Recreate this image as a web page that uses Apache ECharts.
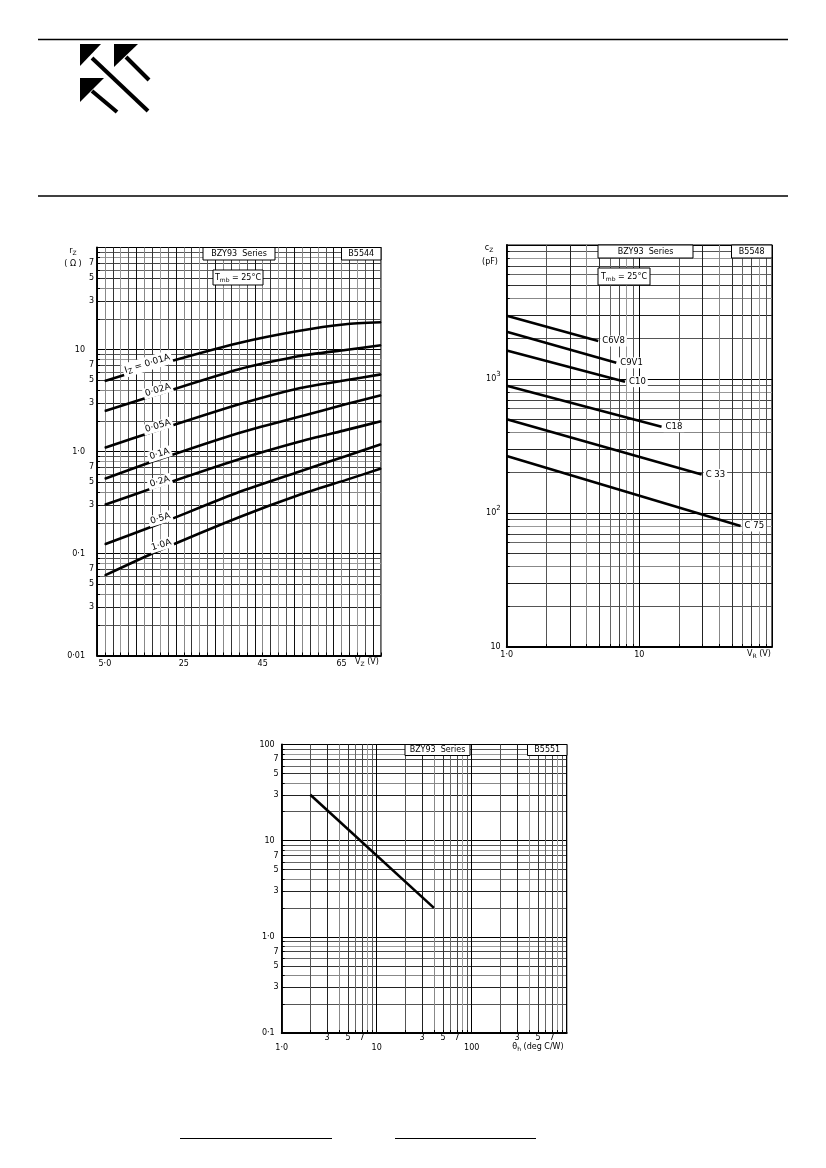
<!DOCTYPE html>
<html>
<head>
<meta charset="utf-8">
<title>BZY93 Series</title>
<script src="https://cdn.jsdelivr.net/npm/echarts@6/dist/echarts.min.js"></script>
<style>
  html, body { margin: 0; padding: 0; background: #fff; }
  #main { width: 826px; height: 1168px; }
</style>
</head>
<body>
<div id="main"></div>
<script>
var FONT = 'DejaVu Sans';

// ---- B5544: r_Z against V_Z ----
var vzVolts = [5, 18, 39, 54, 66, 75];
var rzI001 = [4.9, 7.0, 11.6, 15.2, 17.7, 18.5];
var rzI002 = [2.5, 3.6, 6.4, 8.6, 9.9, 11.0];
var rzI005 = [1.09, 1.6, 2.9, 4.15, 5.0, 5.7];
var rzI01 = [0.54, 0.82, 1.52, 2.18, 2.9, 3.56];
var rzI02 = [0.30, 0.45, 0.84, 1.24, 1.62, 1.98];
var rzI05 = [0.123, 0.19, 0.40, 0.63, 0.90, 1.18];
var rzI10 = [0.061, 0.104, 0.227, 0.373, 0.524, 0.68];
var rzCurveNames = ['{t|I}{sub|Z}{t| = 0·01A}', '0·02A', '0·05A', '0·1A', '0·2A', '0·5A', '1·0A'];
var vzTickLabels = [5, 25, 45, 65];
var rzTickLabels = [0.01, 0.03, 0.05, 0.07, 0.1, 0.3, 0.5, 0.7, 1, 3, 5, 7, 10, 30, 50, 70];

// ---- B5548: c_Z against V_R ----
var czNames = ['C6V8', 'C9V1', 'C10', 'C18', 'C 33', 'C 75'];
var vrStart = [1, 1, 1, 1, 1, 1];
var czStart = [2970, 2250, 1630, 890, 500, 266];
var vrEnd = [4.9, 6.7, 7.8, 14.7, 29.5, 58];
var czEnd = [1920, 1320, 955, 441, 194, 80];
var vrTickLabels = [1, 10];
var czTickLabels = [10, 100, 1000];

// ---- B5551: against theta_h ----
var thetaH = [2, 40];
var thermalY = [30, 2];
var thetaTickLabels = [1, 3, 5, 7, 10, 30, 50, 70, 100, 300, 500, 700];
var thermalTickLabels = [0.1, 0.3, 0.5, 0.7, 1, 3, 5, 7, 10, 30, 50, 70, 100];

// grid line positions: 1..9 in every decade
function logSteps(fromExp, toExp) {
  var out = [];
  for (var e = fromExp; e < toExp; e++) {
    for (var m = 1; m < 10; m++) out.push(+(m * Math.pow(10, e)).toPrecision(3));
  }
  out.push(Math.pow(10, toExp));
  return out;
}
var vzGridLines = [];
for (var g = 3; g <= 75; g += 2) vzGridLines.push(g);

var gridColorsLog = ['#000', '#555', '#222', '#888', '#333', '#666', '#444', '#999', '#555'];
var gridColorsLin = ['#111', '#888', '#333', '#999', '#555'];

function mantExp(v) {
  var e = Math.floor(Math.log10(v) + 1e-9);
  return { m: Math.round(v / Math.pow(10, e)), e: e };
}
function logLabel(majors) {
  return function (v) {
    var me = mantExp(v);
    if (me.m === 1) return '{maj|' + majors[me.e] + '}';
    return String(me.m);
  };
}

var labelFont = { fontFamily: FONT, fontSize: 8, color: '#000' };

function logAxis(grid, min, max, steps, labels, fmt, rich, margin) {
  return {
    gridIndex: grid, type: 'log', logBase: 10, min: min, max: max,
    axisLine: { show: true, lineStyle: { color: '#000', width: 1.8 } },
    axisTick: { show: true, inside: true, length: 3, customValues: steps, lineStyle: { color: '#000' } },
    splitLine: { show: true, lineStyle: { color: gridColorsLog, width: 1 } },
    minorTick: { show: false }, minorSplitLine: { show: false },
    axisLabel: Object.assign({ customValues: labels, formatter: fmt, margin: margin, rich: rich }, labelFont)
  };
}

var rzSeriesData = [rzI001, rzI002, rzI005, rzI01, rzI02, rzI05, rzI10];
var rzLabelOffsets = [[-8, -4], [3, -4], [3, -4], [5, -5], [5, -4], [6, -5], [7, -5]];

var series = [];
rzSeriesData.forEach(function (vals, k) {
  series.push({
    type: 'line', xAxisIndex: 0, yAxisIndex: 0,
    smooth: 0.2, symbol: 'circle', symbolSize: 1, showSymbol: true,
    lineStyle: { color: '#000', width: 2.6 }, itemStyle: { color: '#000' },
    silent: true, z: 5,
    data: vzVolts.map(function (v, i) {
      var item = { value: [v, vals[i]] };
      if (i === 1) {
        item.label = {
          show: true, position: 'inside', rotate: 17, offset: rzLabelOffsets[k],
          formatter: rzCurveNames[k], backgroundColor: '#fff', padding: [1, 2],
          fontFamily: FONT, fontSize: 9, color: '#000',
          rich: { t: { fontFamily: FONT, fontSize: 9 }, sub: { fontFamily: FONT, fontSize: 7, padding: [5, 0, 0, 0] } }
        };
      }
      return item;
    })
  });
});

czNames.forEach(function (name, k) {
  series.push({
    type: 'line', name: name, xAxisIndex: 1, yAxisIndex: 1,
    symbol: 'none', lineStyle: { color: '#000', width: 2.6 }, silent: true, z: 5,
    data: [[vrStart[k], czStart[k]], [vrEnd[k], czEnd[k]]],
    endLabel: {
      show: true, formatter: name, distance: 2, backgroundColor: '#fff', padding: [1, 2],
      fontFamily: FONT, fontSize: 8.5, color: '#000'
    }
  });
});

series.push({
  type: 'line', xAxisIndex: 2, yAxisIndex: 2,
  symbol: 'none', lineStyle: { color: '#000', width: 2.6 }, silent: true, z: 5,
  data: thetaH.map(function (t, i) { return [t, thermalY[i]]; })
});

var TOP_Z = 100;
function box(x, y, w, h, text, rich) {
  return [
    { type: 'rect', z: TOP_Z, shape: { x: x, y: y, width: w, height: h }, style: { fill: '#fff', stroke: '#000', lineWidth: 1 } },
    { type: 'text', z: TOP_Z + 1, style: { text: text, x: x + w / 2, y: y + h / 2, align: 'center', verticalAlign: 'middle',
      fontFamily: FONT, fontSize: 8, fill: '#000', rich: rich } }
  ];
}
var tmbRich = { t: { fontFamily: FONT, fontSize: 8 }, sub: { fontFamily: FONT, fontSize: 6, padding: [5, 0, 0, 0] } };
function txt(x, y, text, align, rich) {
  return { type: 'text', z: TOP_Z, style: { text: text, x: x, y: y, align: align || 'left', verticalAlign: 'middle',
    fontFamily: FONT, fontSize: 8, fill: '#000', rich: rich } };
}
function seg(x1, y1, x2, y2, w) {
  return { type: 'line', z: TOP_Z, shape: { x1: x1, y1: y1, x2: x2, y2: y2 }, style: { stroke: '#000', lineWidth: w } };
}
function tri(pts) {
  return { type: 'polygon', z: TOP_Z, shape: { points: pts }, style: { fill: '#000' } };
}

var graphics = [].concat(
  [
    seg(38, 39.5, 788, 39.5, 1.3),
    seg(38, 196, 788, 196, 1.3),
    tri([[80, 44], [101, 44], [80, 66]]), seg(92, 58, 148, 111, 4),
    tri([[114, 44], [138, 44], [114, 67]]), seg(126, 57, 149, 80, 4),
    tri([[80, 78], [104, 78], [80, 102]]), seg(92, 91, 117, 112, 4),
    seg(180, 1138.5, 332, 1138.5, 1),
    seg(395, 1138.5, 536, 1138.5, 1)
  ],
  box(203, 247.5, 72, 12.5, 'BZY93  Series'),
  box(341.5, 247.5, 39.5, 12.5, 'B5544'),
  box(213, 270, 50, 15, '{t|T}{sub|mb}{t| = 25°C}', tmbRich),
  [
    txt(73, 251, '{t|r}{sub|Z}', 'center', tmbRich),
    txt(73, 264, '( Ω )', 'center'),
    txt(367, 662, '{t|V}{sub|Z}{t| (V)}', 'center', tmbRich)
  ],
  box(598, 245, 95, 13, 'BZY93  Series'),
  box(731.5, 245, 40.5, 13, 'B5548'),
  box(598, 268, 52, 17, '{t|T}{sub|mb}{t| = 25°C}', tmbRich),
  [
    txt(489, 248, '{t|c}{sub|Z}', 'center', tmbRich),
    txt(490, 262, '(pF)', 'center'),
    txt(759, 654, '{t|V}{sub|R}{t| (V)}', 'center', tmbRich)
  ],
  box(405, 744.5, 65, 11, 'BZY93  Series'),
  box(527.5, 744.5, 39.5, 11, 'B5551'),
  [txt(538, 1047, '{t|θ}{sub|h}{t| (deg C/W)}', 'center', tmbRich)]
);

var myChart = echarts.init(document.getElementById('main'));
var option = {
  animation: false,
  backgroundColor: '#fff',
  textStyle: { fontFamily: FONT },
  grid: [
    { left: 97, top: 247.5, width: 284, height: 408, show: true, borderColor: '#000', borderWidth: 1.2, outerBoundsMode: 'none' },
    { left: 506.7, top: 245, width: 265.3, height: 402, show: true, borderColor: '#000', borderWidth: 1.2, outerBoundsMode: 'none' },
    { left: 281.7, top: 744.5, width: 285, height: 288.5, show: true, borderColor: '#000', borderWidth: 1.2, outerBoundsMode: 'none' }
  ],
  xAxis: [
    {
      gridIndex: 0, type: 'value', min: 3, max: 75,
      axisLine: { show: true, lineStyle: { color: '#000', width: 1.8 } },
      axisTick: { show: true, inside: true, length: 3, customValues: vzGridLines, lineStyle: { color: '#000' } },
      splitLine: { show: true, lineStyle: { color: gridColorsLin, width: 1 } },
      axisLabel: Object.assign({
        customValues: vzTickLabels, margin: 4,
        formatter: function (v) { return v === 5 ? '5·0' : String(v); }
      }, labelFont)
    },
    logAxis(1, 1, 100, logSteps(0, 2), vrTickLabels, logLabel({ 0: '1·0', 1: '10' }), {}, 4),
    logAxis(2, 1, 1000, logSteps(0, 3), thetaTickLabels, logLabel({ 0: '1·0', 1: '10', 2: '100' }),
      { maj: { fontFamily: FONT, fontSize: 8, padding: [10, 0, 0, 0] } }, 1)
  ],
  yAxis: [
    logAxis(0, 0.01, 100, logSteps(-2, 2), rzTickLabels, logLabel({ '-2': '0·01', '-1': '0·1', 0: '1·0', 1: '10' }),
      { maj: { fontFamily: FONT, fontSize: 8, padding: [0, 9, 0, 0] } }, 3),
    logAxis(1, 10, 10000, logSteps(1, 4), czTickLabels, function (v) {
      var me = mantExp(v);
      return me.e === 1 ? '10' : '10{sup|' + me.e + '}';
    }, { sup: { fontFamily: FONT, fontSize: 7, padding: [0, 0, 9, 0] } }, 6),
    logAxis(2, 0.1, 100, logSteps(-1, 2), thermalTickLabels, logLabel({ '-1': '0·1', 0: '1·0', 1: '10', 2: '100' }),
      { maj: { fontFamily: FONT, fontSize: 8, padding: [0, 4, 0, 0] } }, 3)
  ],
  graphic: graphics,
  series: series
};
myChart.setOption(option);
</script>
</body>
</html>
